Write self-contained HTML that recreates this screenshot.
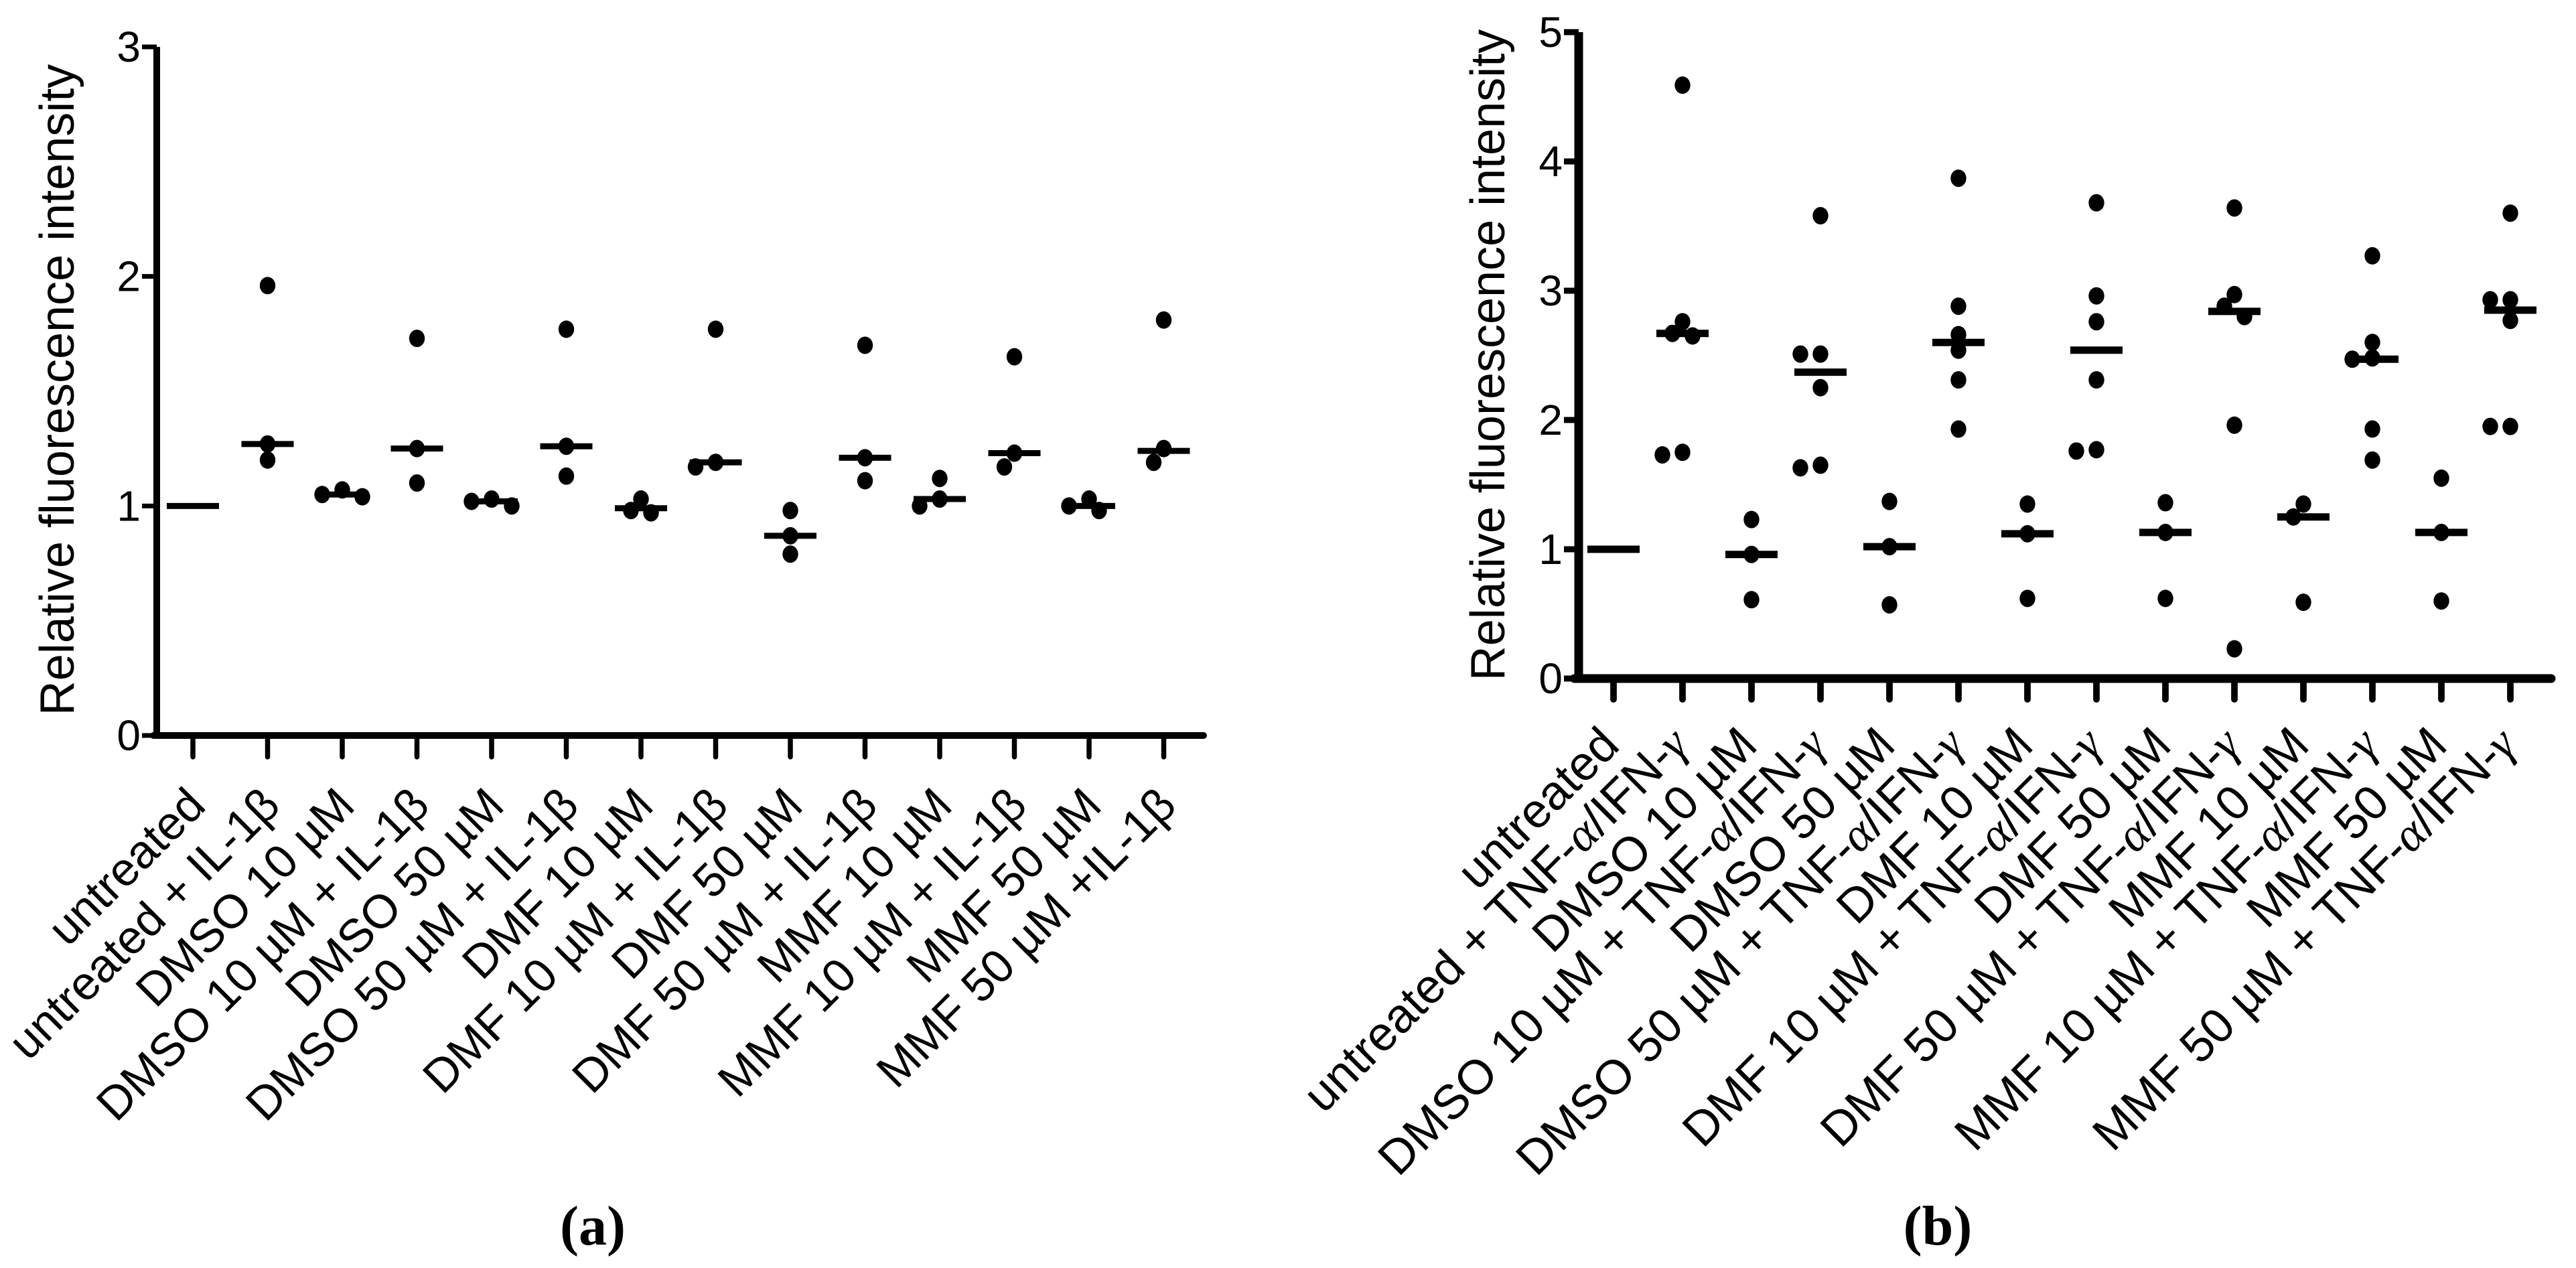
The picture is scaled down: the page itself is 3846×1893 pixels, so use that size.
<!DOCTYPE html>
<html><head><meta charset="utf-8"><style>
html,body{margin:0;padding:0;background:#fff;}
svg{display:block;}
text{font-family:"Liberation Sans",sans-serif;fill:#000;}
.gr{font-family:"Liberation Serif",serif;font-style:italic;}
</style></head><body>
<svg id="fig" width="3846" height="1893" viewBox="0 0 3846 1893" xmlns="http://www.w3.org/2000/svg">
<rect width="3846" height="1893" fill="#fff"/>
<g id="pa"></g>
<g id="pb"></g>
<text x="885" y="1858" text-anchor="middle" style="font-family:'Liberation Serif',serif;font-weight:bold;font-size:84px">(a)</text>
<text x="2893" y="1858" text-anchor="middle" style="font-family:'Liberation Serif',serif;font-weight:bold;font-size:84px">(b)</text>
</svg>
<script>
// Panel A data
const catsA = ["untreated","untreated + IL-1\u03B2","DMSO 10 \u00B5M","DMSO 10 \u00B5M + IL-1\u03B2","DMSO 50 \u00B5M","DMSO 50 \u00B5M + IL-1\u03B2","DMF 10 \u00B5M","DMF 10 \u00B5M + IL-1\u03B2","DMF 50 \u00B5M","DMF 50 \u00B5M + IL-1\u03B2","MMF 10 \u00B5M","MMF 10 \u00B5M + IL-1\u03B2","MMF 50 \u00B5M","MMF 50 \u00B5M +IL-1\u03B2"];
const mediansA = [1.0,1.27,1.05,1.25,1.02,1.26,0.99,1.19,0.87,1.21,1.03,1.23,1.00,1.24];
const pointsA = [[],[1.96,1.27,1.20],[1.07,1.05,1.04],[1.73,1.25,1.10],[1.03,1.02,1.00],[1.77,1.26,1.13],[1.03,0.98,0.97],[1.77,1.19,1.17],[0.98,0.87,0.79],[1.70,1.21,1.11],[1.12,1.03,1.00],[1.65,1.23,1.17],[1.03,1.00,0.98],[1.81,1.25,1.19]];
const ticksA = [0,1,2,3];
// Panel B data
const catsB = ["untreated","untreated +  TNF-\u03B1/IFN-\u03B3","DMSO  10 \u00B5M","DMSO  10 \u00B5M + TNF-\u03B1/IFN-\u03B3","DMSO 50 \u00B5M","DMSO 50 \u00B5M + TNF-\u03B1/IFN-\u03B3","DMF  10 \u00B5M","DMF  10 \u00B5M + TNF-\u03B1/IFN-\u03B3","DMF 50 \u00B5M","DMF 50 \u00B5M + TNF-\u03B1/IFN-\u03B3","MMF  10 \u00B5M","MMF  10 \u00B5M + TNF-\u03B1/IFN-\u03B3","MMF 50 \u00B5M","MMF 50 \u00B5M + TNF-\u03B1/IFN-\u03B3"];
const mediansB = [1.0,2.67,0.96,2.37,1.02,2.60,1.12,2.54,1.13,2.84,1.25,2.47,1.13,2.85];
const pointsB = [[],[4.59,2.76,2.67,2.65,1.75,1.73],[1.23,0.96,0.61],[3.58,2.51,2.51,2.25,1.65,1.63],[1.37,1.02,0.57],[3.87,2.88,2.66,2.54,2.31,1.93],[1.35,1.12,0.62],[3.68,2.96,2.76,2.31,1.77,1.76],[1.36,1.13,0.62],[3.64,2.97,2.88,2.80,1.96,0.23],[1.35,1.25,0.59],[3.27,2.60,2.48,2.47,1.93,1.69],[1.55,1.13,0.60],[3.60,2.93,2.93,2.77,1.95,1.95]];
const ticksB = [0,1,2,3,4,5];

const NS="http://www.w3.org/2000/svg";
function mk(tag,attrs,parent){const e=document.createElementNS(NS,tag);for(const k in attrs)e.setAttribute(k,attrs[k]);parent.appendChild(e);return e;}

function drawPanel(g,cfg,cats,meds,pts,ticks,prefix){
  const yS=v=>cfg.y0-(v-ticks[0])/(ticks[ticks.length-1]-ticks[0])*(cfg.y0-cfg.yTop);
  const xS=i=>cfg.x0+i*cfg.dx;
  const yAxis=mk('line',{x1:cfg.ax,y1:cfg.yTop,x2:cfg.ax,y2:cfg.y0+cfg.lw/2,stroke:'#000','stroke-width':cfg.lw},g);
  
  
  const xAxis=mk('line',{x1:cfg.ax-cfg.lw/2,y1:cfg.y0,x2:cfg.xEnd,y2:cfg.y0,stroke:'#000','stroke-width':cfg.lw,'stroke-linecap':'round'},g);
  
  
  ticks.forEach(t=>{
    const tk=mk('line',{x1:cfg.ax-22,y1:yS(t),x2:cfg.ax,y2:yS(t),stroke:'#000','stroke-width':cfg.lw*0.7},g);
    
    
    const tl=mk('text',{x:cfg.ax-24,y:yS(t)+22,'text-anchor':'end','font-size':64},g);
    tl.textContent=t;
    
    
  });
  const tt=mk('text',{x:0,y:0,'text-anchor':'middle','font-size':72,transform:`translate(${cfg.titleX},${cfg.titleY}) rotate(-90)`},g);
  tt.textContent='Relative fluorescence intensity';
  
  
  cats.forEach((c,i)=>{
    const x=xS(i);
    const tk=mk('line',{x1:x,y1:cfg.y0,x2:x,y2:cfg.tickEnd,stroke:'#000','stroke-width':cfg.lw*0.75,'stroke-linecap':'round'},g);
    
    
    const lx=x+cfg.lblDx, ly=cfg.lblY;
    const tl=mk('text',{x:0,y:0,'text-anchor':'end','font-size':cfg.lblFs,transform:`translate(${lx},${ly}) rotate(-45)`},g);
    // render greek letters in serif italic for panel b
    if(cfg.greekSerif){
      const parts=c.split(/([\u03B1\u03B3])/);
      parts.forEach(p=>{if(!p)return;const s=mk('tspan',{},tl);if(/[\u03B1\u03B3]/.test(p))s.setAttribute('class','gr');s.textContent=p;});
    } else tl.textContent=c;
    
    
    // points with simple collision jitter
    const placed=[];
    pts[i].forEach(v=>{
      const y=yS(v);let ox=0;const cands=[0,-cfg.jit,cfg.jit,-2*cfg.jit,2*cfg.jit];
      for(const o of cands){if(placed.every(p=>Math.hypot(p[0]-o,p[1]-y)>=cfg.r*1.7)){ox=o;break;}}
      placed.push([ox,y]);
      const d=mk('ellipse',{cx:x+ox,cy:y,rx:cfg.r*0.9,ry:cfg.r,fill:'#000'},g);
      
      
    });
    const m=mk('line',{x1:x-cfg.mw,y1:yS(meds[i]),x2:x+cfg.mw,y2:yS(meds[i]),stroke:'#000','stroke-width':cfg.mlw},g);
    
    
  });
}
drawPanel(document.getElementById('pa'),{ax:234,yTop:70,y0:1098,xEnd:1797,x0:288,dx:111.5,lw:10,tickEnd:1130,lblDx:22,lblY:1206,lblFs:70,titleX:110,titleY:582,r:13,jit:15,mw:39,mlw:9,greekSerif:false},catsA,mediansA,pointsA,ticksA,'a');
drawPanel(document.getElementById('pb'),{ax:2357,yTop:48,y0:1013,xEnd:3809,x0:2409,dx:103,lw:13,tickEnd:1044,lblDx:12,lblY:1116,lblFs:72,titleX:2246,titleY:530,r:13,jit:15,mw:39,mlw:11,greekSerif:true},catsB,mediansB,pointsB,ticksB,'b');
</script>
</body></html>
